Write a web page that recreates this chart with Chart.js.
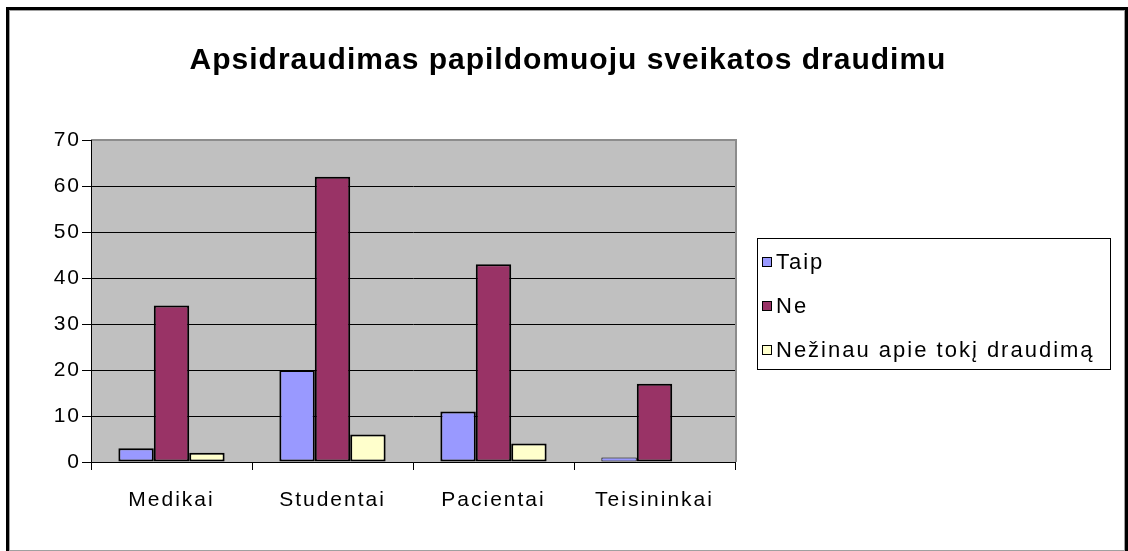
<!DOCTYPE html>
<html>
<head>
<meta charset="utf-8">
<script src="https://cdn.jsdelivr.net/npm/chart.js@4.4.0/dist/chart.umd.min.js"></script>
<style>
  html, body { margin: 0; padding: 0; background: #fff; }
  #wrap { position: relative; width: 1128px; height: 551px; }
</style>
</head>
<body>
<div id="wrap"><canvas id="chart" width="1128" height="551"></canvas></div>
<script>
var categories = ['Medikai', 'Studentai', 'Pacientai', 'Teisininkai'];
var taip = [3, 20, 11, 1];
var ne = [34, 62, 43, 17];
var nezinau = [2, 6, 4, 0];
var seriesNames = ['Taip', 'Ne', 'Nežinau apie tokį draudimą'];
var seriesColors = ['#9999FF', '#993366', '#FFFFCC'];
var yTicks = [0, 10, 20, 30, 40, 50, 60, 70];
var chartTitle = 'Apsidraudimas papildomuoju sveikatos draudimu';

var labelFont = 'Liberation Sans';

// the old spreadsheet fonts are spaced out, canvas letterSpacing gets close
var spacing = {
  id: 'spacing',
  beforeInit: function (chart) { chart.ctx.letterSpacing = '2px'; },
  beforeDraw: function (chart) { chart.ctx.letterSpacing = '2px'; }
};

// white page, black frame, grey plot background, title
var backdrop = {
  id: 'backdrop',
  beforeDraw: function (chart) {
    var ctx = chart.ctx, a = chart.chartArea;
    ctx.save();
    ctx.fillStyle = '#fff';
    ctx.fillRect(0, 0, chart.width, chart.height);
    ctx.fillStyle = '#000';
    ctx.fillRect(6, 7, 1122, 3);
    ctx.fillRect(6, 7, 3, 544);
    ctx.fillRect(1125, 7, 3, 544);
    ctx.fillStyle = '#a0a0a0';
    ctx.fillRect(9, 10, 1, 541);
    ctx.fillRect(9, 10, 1115, 1);
    ctx.fillRect(1124, 10, 1, 541);
    ctx.fillRect(9, 550, 1116, 1);
    ctx.fillStyle = '#C0C0C0';
    ctx.fillRect(a.left, a.top, a.right - a.left, a.bottom - a.top);
    ctx.fillStyle = '#8c8c8c';
    ctx.fillRect(a.left, a.top - 1, a.right - a.left + 2, 2);
    ctx.fillRect(a.right, a.top - 1, 2, a.bottom - a.top + 1);

    ctx.letterSpacing = '1px';
    ctx.fillStyle = '#000';
    ctx.font = 'bold 30px "' + labelFont + '"';
    ctx.textAlign = 'center';
    ctx.textBaseline = 'middle';
    ctx.fillText(chartTitle, 568, 61);
    ctx.restore();
  }
};

// legend box on the right, like the spreadsheet one
var boxLegend = {
  id: 'boxLegend',
  afterDraw: function (chart) {
    var ctx = chart.ctx;
    var x = 757, y = 238, w = 353, h = 131;
    ctx.save();
    ctx.letterSpacing = '2px';
    ctx.strokeStyle = '#000';
    ctx.lineWidth = 1;
    ctx.strokeRect(x + 0.5, y + 0.5, w, h);
    ctx.font = '22px "' + labelFont + '"';
    ctx.textBaseline = 'middle';
    chart.data.datasets.forEach(function (ds, i) {
      var cy = y + 24 + i * 44;
      ctx.fillStyle = ds.backgroundColor;
      ctx.fillRect(762, cy - 5, 10, 10);
      ctx.strokeRect(762.5, cy - 4.5, 9, 9);
      ctx.fillStyle = '#000';
      ctx.fillText(ds.label, 776, cy + 1);
    });
    ctx.restore();
  }
};

new Chart(document.getElementById('chart'), {
  type: 'bar',
  data: {
    labels: categories,
    datasets: [
      { label: seriesNames[0], data: taip, backgroundColor: seriesColors[0] },
      { label: seriesNames[1], data: ne, backgroundColor: seriesColors[1] },
      { label: seriesNames[2], data: nezinau, backgroundColor: seriesColors[2] }
    ]
  },
  options: {
    responsive: false,
    animation: false,
    devicePixelRatio: 1,
    layout: { padding: { left: 0, right: 393, top: 140, bottom: 0 } },
    datasets: {
      bar: {
        borderColor: '#000',
        // thin outline on tiny bars so the fill still shows
        borderWidth: function (c) { return c.raw < 2 ? 1 : 2; },
        borderSkipped: false,
        categoryPercentage: 0.66,
        barPercentage: 1.0
      }
    },
    plugins: {
      legend: { display: false },
      tooltip: { enabled: false },
      title: { display: false }
    },
    scales: {
      x: {
        offset: true,
        grid: { display: true, drawOnChartArea: false, drawTicks: true, tickLength: 8, color: '#000', offset: true },
        border: { display: true, color: '#000', width: 1 },
        ticks: { color: '#000', font: { family: labelFont, size: 21 }, padding: 18 },
        afterFit: function (scale) { scale.height = 89; }
      },
      y: {
        min: 0,
        max: 70,
        afterBuildTicks: function (scale) {
          scale.ticks = yTicks.map(function (v) { return { value: v }; });
        },
        grid: {
          color: function (c) { return c.tick && c.tick.value === 70 ? 'rgba(0,0,0,0)' : '#000'; },
          tickColor: '#000',
          tickLength: 9,
          lineWidth: 1
        },
        border: { display: true, color: '#000', width: 1 },
        ticks: { color: '#000', font: { family: labelFont, size: 21 }, padding: 1 },
        afterFit: function (scale) { scale.width = 91; }
      }
    }
  },
  plugins: [spacing, backdrop, boxLegend]
});
</script>
</body>
</html>
